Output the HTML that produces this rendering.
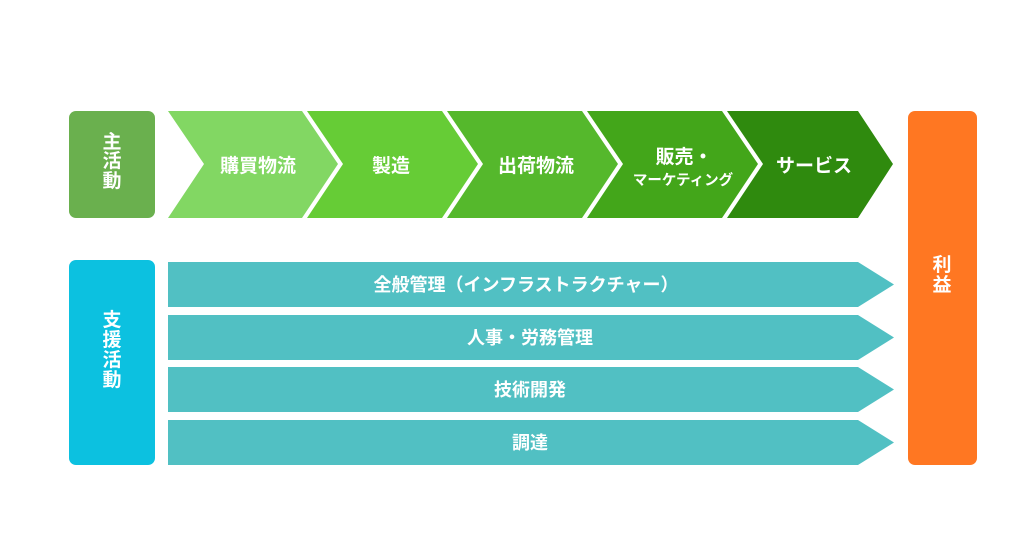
<!DOCTYPE html>
<html><head><meta charset="utf-8"><style>
html,body{margin:0;padding:0;background:#fff;width:1024px;height:538px;overflow:hidden}
svg text{font-family:"Liberation Sans","Noto Sans CJK JP",sans-serif;font-weight:bold;fill:#fff}
</style></head><body>
<svg width="1024" height="538" viewBox="0 0 1024 538" xmlns="http://www.w3.org/2000/svg">
<rect x="69" y="111" width="86" height="107" rx="7" fill="#6ab04e"/>
<text x="112" y="148" font-size="19" text-anchor="middle">主</text>
<text x="112" y="167" font-size="19" text-anchor="middle">活</text>
<text x="112" y="187" font-size="19" text-anchor="middle">動</text>
<polygon points="168,111 302,111 338,164 302,218 168,218 204,164" fill="#82d763"/>
<polygon points="307,111 442,111 478,164 442,218 307,218 343,164" fill="#66cc36"/>
<polygon points="447,111 582,111 618,164 582,218 447,218 483,164" fill="#55b82c"/>
<polygon points="587,111 722,111 758,164 722,218 587,218 623,164" fill="#43a61a"/>
<polygon points="727,111 858,111 893,164 858,218 727,218 763,164" fill="#2f8a0e"/>
<text x="258" y="172" font-size="19" text-anchor="middle">購買物流</text>
<text x="391" y="172" font-size="19" text-anchor="middle">製造</text>
<text x="536" y="172" font-size="19" text-anchor="middle">出荷物流</text>
<text x="684" y="163" font-size="19" text-anchor="middle">販売・</text>
<text x="683" y="185" font-size="14.5" text-anchor="middle">マーケティング</text>
<text x="814" y="172" font-size="19" text-anchor="middle">サービス</text>
<rect x="69" y="260" width="86" height="205" rx="7" fill="#0cc1e0"/>
<text x="112" y="326" font-size="19" text-anchor="middle">支</text>
<text x="112" y="346" font-size="19" text-anchor="middle">援</text>
<text x="112" y="366" font-size="19" text-anchor="middle">活</text>
<text x="112" y="386" font-size="19" text-anchor="middle">動</text>
<g fill="#51c0c3">
<polygon points="168,262 858,262 894,284.5 858,307 168,307"/>
<polygon points="168,315 858,315 894,337.5 858,360 168,360"/>
<polygon points="168,367 858,367 894,389.5 858,412 168,412"/>
<polygon points="168,420 858,420 894,442.5 858,465 168,465"/>
</g>
<text x="526" y="291" font-size="18" text-anchor="middle">全般管理（インフラストラクチャー）</text>
<text x="530" y="344" font-size="18" text-anchor="middle">人事・労務管理</text>
<text x="530" y="396" font-size="18" text-anchor="middle">技術開発</text>
<text x="530" y="449" font-size="18" text-anchor="middle">調達</text>
<rect x="908" y="111" width="69" height="354" rx="7" fill="#ff7722"/>
<text x="942" y="271" font-size="19" text-anchor="middle">利</text>
<text x="942" y="291" font-size="19" text-anchor="middle">益</text>
</svg>
</body></html>
